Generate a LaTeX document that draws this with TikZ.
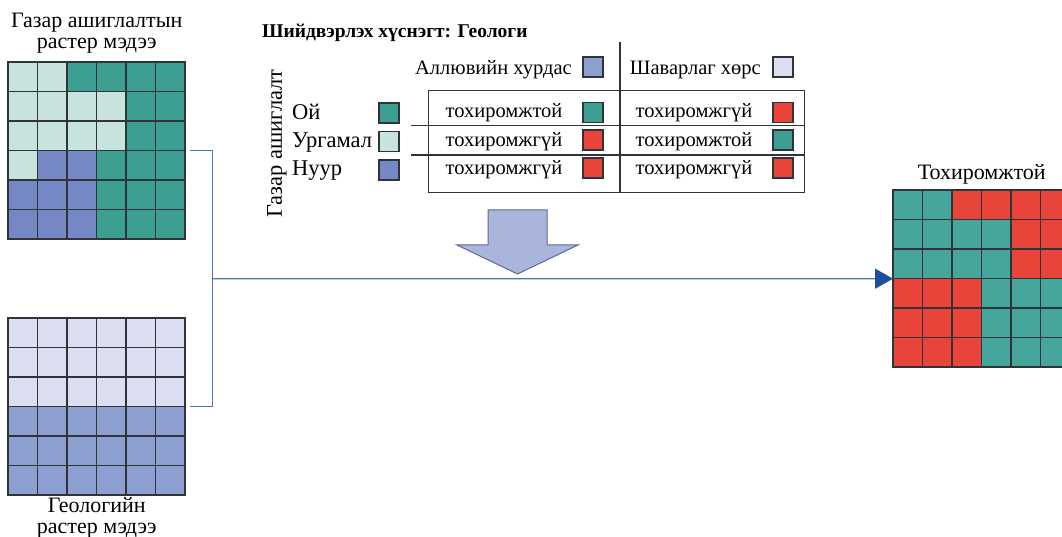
\documentclass[tikz,border=0pt]{standalone}
\usepackage{fontspec}
\setmainfont{Liberation Serif}
\usetikzlibrary{calc,positioning,arrows.meta}
\definecolor{forest}{HTML}{3D9E92}
\definecolor{meadow}{HTML}{C8E3DE}
\definecolor{lake}{HTML}{7687C5}
\definecolor{alluv}{HTML}{8E9FD1}
\definecolor{clay}{HTML}{DCDFF1}
\definecolor{suit}{HTML}{47A69C}
\definecolor{bad}{HTML}{E9443A}
\definecolor{gridline}{HTML}{2E3438}
\definecolor{linkblue}{HTML}{4F74AE}
\definecolor{arrowblue}{HTML}{1F4F9C}
\definecolor{arrowfill}{HTML}{A9B5DB}
\definecolor{arrowedge}{HTML}{5F6A96}
\tikzstyle{link} = [draw=linkblue, line width=1.4pt]

\begin{document}
\begin{tikzpicture}[
	x=1pt, y=-1pt,
	every node/.style={font=\fontsize{20.5}{23}\selectfont, inner sep=0pt},
	cell/.style={
		draw=gridline,
		line width=1.6pt,
	},
	frame/.style={
		rectangle,
		minimum size=177pt,
		anchor=north west,
	},
	swatch/.style={
		rectangle,
		draw=gridline,
		line width=1.2pt,
		minimum size=20pt,
	},
	rule/.style={
		draw=gridline,
		line width=1.2pt,
	},
	caption/.style={
		align=center,
		font=\fontsize{22}{21}\selectfont,
	},
	rowlabel/.style={
		anchor=base west,
		font=\fontsize{22.5}{25}\selectfont,
	}
]
	\useasboundingbox (0,0) rectangle (1062,537);

	% raster grids
	\node (landuse) [frame] at (8,62) {};
	\node (geology) [frame] at (8,318) {};
	\node (result) [frame] at (893,190) {};

	\foreach \r/\cl in {
		0/{meadow,meadow,forest,forest,forest,forest},
		1/{meadow,meadow,meadow,meadow,forest,forest},
		2/{meadow,meadow,meadow,meadow,forest,forest},
		3/{meadow,lake,lake,forest,forest,forest},
		4/{lake,lake,lake,forest,forest,forest},
		5/{lake,lake,lake,forest,forest,forest}}
		\foreach \c [count=\i from 0] in \cl
			\fill [\c] ($(landuse.north west)+(\i*29.5,\r*29.5)$) rectangle +(29.5,29.5);

	\foreach \r/\c in {0/clay,1/clay,2/clay,3/alluv,4/alluv,5/alluv}
		\fill [\c] ($(geology.north west)+(0,\r*29.5)$) rectangle +(177,29.5);

	\foreach \r/\cl in {
		0/{suit,suit,bad,bad,bad,bad},
		1/{suit,suit,suit,suit,bad,bad},
		2/{suit,suit,suit,suit,bad,bad},
		3/{bad,bad,bad,suit,suit,suit},
		4/{bad,bad,bad,suit,suit,suit},
		5/{bad,bad,bad,suit,suit,suit}}
		\foreach \c [count=\i from 0] in \cl
			\fill [\c] ($(result.north west)+(\i*29.5,\r*29.5)$) rectangle +(29.5,29.5);

	% grid lines on top
	\foreach \g in {landuse,geology,result}
		\foreach \k in {0,...,6} {
			\draw [cell, line cap=rect] ($(\g.north west)+(\k*29.5,0)$) -- +(0,177);
			\draw [cell, line cap=rect] ($(\g.north west)+(0,\k*29.5)$) -- +(177,0);
		}

	\node (lutitle) [caption, above=9pt of landuse] {Газар ашиглалтын\\растер мэдээ};
	\node (geotitle) [caption, below=2pt of geology] {Геологийн\\растер мэдээ};
	\node (restitle) [caption, above=6pt of result] {Тохиромжтой};

	% decision table
	\node (title) [anchor=base west, font=\bfseries\fontsize{19.5}{22}\selectfont] at (262,38)
		{Шийдвэрлэх хүснэгт: Геологи};
	\node (tbl) [rectangle, rule, minimum width=376pt, minimum height=102pt, anchor=north west] at (428,90) {};
	\draw [rule] (620,42) -- (620,0 |- tbl.south);
	\draw [rule] (411,125.5) -- (tbl.east |- 0,125.5);
	\draw [rule] (411,155) -- (tbl.east |- 0,155);

	\node (alluvbox) [swatch, fill=alluv] at (593,67) {};
	\node (alluv) [anchor=base east] at (572,75) {Аллювийн хурдас};
	\node (claybox) [swatch, fill=clay] at (783,67) {};
	\node (clay) [anchor=base east] at (761,75) {Шаварлаг хөрс};

	\node (luaxis) [rotate=90, font=\fontsize{22.5}{25}\selectfont] at (277,143.5) {Газар ашиглалт};

	\node (forestbox) [swatch, fill=forest] at (389,113) {};
	\node (forest) [rowlabel] at (292,120) {Ой};
	\node (meadowbox) [swatch, fill=meadow] at (389,141.5) {};
	\node (meadow) [rowlabel] at (292,148) {Ургамал};
	\node (lakebox) [swatch, fill=lake] at (389,170) {};
	\node (lake) [rowlabel] at (292,176) {Нуур};

	\node (a1) [anchor=base] at (504,118) {тохиромжтой};
	\node (a1box) [swatch, fill=forest] at (593,112.5) {};
	\node (b1) [anchor=base] at (694,118) {тохиромжгүй};
	\node (b1box) [swatch, fill=bad] at (783,112.5) {};
	\node (a2) [anchor=base] at (504,147) {тохиромжгүй};
	\node (a2box) [swatch, fill=bad] at (593,140) {};
	\node (b2) [anchor=base] at (694,147) {тохиромжтой};
	\node (b2box) [swatch, fill=forest] at (783,140) {};
	\node (a3) [anchor=base] at (504,175) {тохиромжгүй};
	\node (a3box) [swatch, fill=bad] at (593,168) {};
	\node (b3) [anchor=base] at (694,175) {тохиромжгүй};
	\node (b3box) [swatch, fill=bad] at (783,168) {};

	% big arrow
	\draw [fill=arrowfill, draw=arrowedge, line width=1pt, line join=miter]
		(488,210) -- (547,210) -- (547,245) -- (578,245) -- (517.5,274) -- (457,245) -- (488,245) -- cycle;

	% connectors
	\coordinate (join) at ($(landuse.east)!.5!(geology.east) + (27,0)$);
	\draw [link, shorten <=5pt] (landuse.east) -| (join);
	\draw [link, shorten <=5pt] (geology.east) -| (join);
	\draw [link, -{Triangle[length=18pt, width=20pt, fill=arrowblue, color=arrowblue]}] (join) -- (result.west);

\end{tikzpicture}
\end{document}
